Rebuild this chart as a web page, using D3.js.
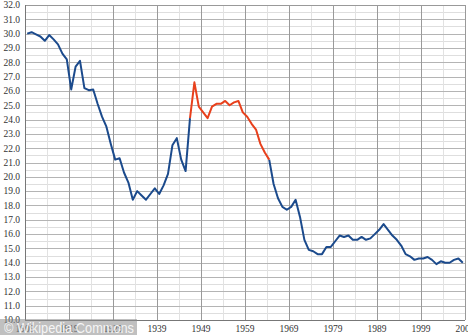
<!DOCTYPE html>
<html>
<head>
<meta charset="utf-8">
<script src="https://cdnjs.cloudflare.com/ajax/libs/d3/7.8.5/d3.min.js"></script>
<style>
  body { margin: 0; background: #fff; }
  svg { display: block; }
</style>
</head>
<body>
<div id="chart"></div>
<script>
var years = d3.range(1909, 2009)
var values = [30.0, 30.1, 29.95, 29.8, 29.5, 29.9, 29.6, 29.25, 28.6, 28.2,
    26.1, 27.7, 28.1, 26.2, 26.05, 26.1, 25.1, 24.2, 23.5, 22.3,
    21.2, 21.3, 20.3, 19.6, 18.4, 19.0, 18.7, 18.4, 18.8, 19.2,
    18.8, 19.4, 20.2, 22.2, 22.7, 21.2, 20.4, 24.1, 26.6, 24.9,
    24.5, 24.1, 24.9, 25.1, 25.1, 25.3, 25.0, 25.2, 25.3, 24.5,
    24.2, 23.7, 23.3, 22.3, 21.7, 21.2, 19.5, 18.5, 17.9, 17.7,
    17.9, 18.4, 17.2, 15.6, 14.9, 14.8, 14.6, 14.6, 15.1, 15.1,
    15.5, 15.9, 15.8, 15.9, 15.6, 15.6, 15.8, 15.6, 15.7, 16.0,
    16.3, 16.7, 16.3, 15.9, 15.6, 15.2, 14.6, 14.45, 14.2, 14.3,
    14.3, 14.4, 14.2, 13.9, 14.1, 14.0, 14.0, 14.2, 14.3, 14.0]
var highlight = [1946, 1964]
var xTicks = d3.range(1909, 2010, 10)
var yTicks = d3.range(10, 33, 1)

var datos = years.map(function (y, i) {
    return { year: y, value: values[i] }
})

var width = 468,
    height = 335,
    plotLeft = 25,
    plotRight = 465,
    plotTop = 5,
    plotBottom = 320

var x = d3.scaleLinear()
    .domain([1909, 2009])
    .range([plotLeft, plotRight])

var y = d3.scaleLinear()
    .domain([10, 32])
    .range([plotBottom, plotTop])

var svg = d3.select("#chart").append("svg")
    .attr("width", width)
    .attr("height", height)

function px(v) { return Math.round(v) + 0.5 }

// grid, light lines first
svg.append("g")
    .selectAll("line")
    .data(d3.range(10.5, 32, 1))
    .enter().append("line")
    .attr("x1", plotLeft).attr("x2", plotRight)
    .attr("y1", function (d) { return px(y(d)) })
    .attr("y2", function (d) { return px(y(d)) })
    .attr("stroke", "#dedede")

svg.append("g")
    .selectAll("line")
    .data(d3.range(1914, 2009, 10))
    .enter().append("line")
    .attr("y1", plotTop).attr("y2", plotBottom)
    .attr("x1", function (d) { return px(x(d)) })
    .attr("x2", function (d) { return px(x(d)) })
    .attr("stroke", "#e2e2e2")

svg.append("g")
    .selectAll("line")
    .data(yTicks)
    .enter().append("line")
    .attr("x1", plotLeft).attr("x2", plotRight)
    .attr("y1", function (d) { return px(y(d)) })
    .attr("y2", function (d) { return px(y(d)) })
    .attr("stroke", function (d) { return d == 32 ? "#999" : "#b4b4b4" })

svg.append("g")
    .selectAll("line")
    .data(xTicks)
    .enter().append("line")
    .attr("y1", plotTop).attr("y2", plotBottom)
    .attr("x1", function (d) { return px(x(d)) })
    .attr("x2", function (d) { return px(x(d)) })
    .attr("stroke", "#9a9a9a")

// axis lines
svg.append("line")
    .attr("x1", px(plotLeft)).attr("x2", px(plotLeft))
    .attr("y1", plotTop).attr("y2", plotBottom)
    .attr("stroke", "#777")
svg.append("line")
    .attr("x1", plotLeft).attr("x2", plotRight)
    .attr("y1", px(plotBottom)).attr("y2", px(plotBottom))
    .attr("stroke", "#777")

// tick labels
svg.append("g")
    .selectAll("text")
    .data(yTicks)
    .enter().append("text")
    .attr("x", 20)
    .attr("y", function (d) { return y(d) })
    .attr("dy", "0.35em")
    .attr("text-anchor", "end")
    .attr("fill", "#333")
    .style("font-family", "'Liberation Serif', 'DejaVu Serif', serif")
    .style("font-size", "9.5px")
    .text(d3.format(".1f"))

svg.append("g")
    .selectAll("text")
    .data(xTicks)
    .enter().append("text")
    .attr("x", function (d) { return x(d) })
    .attr("y", 332)
    .attr("text-anchor", "middle")
    .attr("fill", "#333")
    .style("font-family", "'Liberation Serif', 'DejaVu Serif', serif")
    .style("font-size", "9.5px")
    .text(function (d) { return d })

var line = d3.line()
    .x(function (d) { return x(d.year + 0.5) })
    .y(function (d) { return y(d.value) })

var before = datos.filter(function (d) { return d.year <= highlight[0] })
var middle = datos.filter(function (d) { return d.year >= highlight[0] && d.year <= highlight[1] })
var after = datos.filter(function (d) { return d.year >= highlight[1] })

svg.append("path")
    .datum(before)
    .attr("fill", "none")
    .attr("stroke", "#1b4a8c")
    .attr("stroke-width", 2)
    .attr("stroke-linejoin", "round")
    .attr("d", line)

svg.append("path")
    .datum(after)
    .attr("fill", "none")
    .attr("stroke", "#1b4a8c")
    .attr("stroke-width", 2)
    .attr("stroke-linejoin", "round")
    .attr("d", line)

svg.append("path")
    .datum(middle)
    .attr("fill", "none")
    .attr("stroke", "#e8401c")
    .attr("stroke-width", 2)
    .attr("stroke-linejoin", "round")
    .attr("d", line)

// watermark
svg.append("rect")
    .attr("x", 0).attr("y", 319)
    .attr("width", 137).attr("height", 16)
    .attr("fill", "#8c8c8c")
    .attr("opacity", 0.55)

svg.append("text")
    .attr("x", 4)
    .attr("y", 333)
    .attr("fill", "#fff")
    .attr("opacity", 0.85)
    .style("font-family", "'Liberation Sans', Arial, sans-serif")
    .style("font-size", "14px")
    .attr("textLength", 130)
    .attr("lengthAdjust", "spacingAndGlyphs")
    .text("© Wikipedia Commons")
</script>
</body>
</html>
